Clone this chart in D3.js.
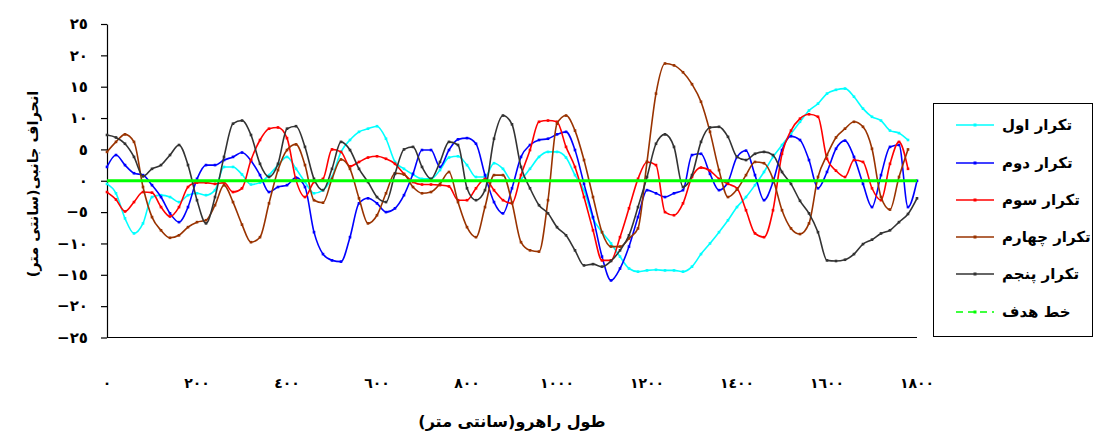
<!DOCTYPE html>
<html>
<head>
<meta charset="utf-8">
<script src="https://cdn.jsdelivr.net/npm/d3@7"></script>
<style>
  body { margin: 0; background: #fff; }
  text { font-family: "DejaVu Sans", sans-serif; font-weight: bold; fill: #000; }
</style>
</head>
<body>
<div id="chart"></div>
<script>
// distance along the walkway (cm)
var distance = [
  0, 20, 40, 60, 80, 100, 120, 140, 160, 180,
  200, 220, 240, 260, 280, 300, 320, 340, 360, 380,
  400, 420, 440, 460, 480, 500, 520, 540, 560, 580,
  600, 620, 640, 660, 680, 700, 720, 740, 760, 780,
  800, 820, 840, 860, 880, 900, 920, 940, 960, 980,
  1000, 1020, 1040, 1060, 1080, 1100, 1120, 1140, 1160, 1180,
  1200, 1220, 1240, 1260, 1280, 1300, 1320, 1340, 1360, 1380,
  1400, 1420, 1440, 1460, 1480, 1500, 1520, 1540, 1560, 1580,
  1600, 1620, 1640, 1660, 1680, 1700, 1720, 1740, 1760, 1780,
  1800
];

var rep1 = [
  -0.5, -2.0, -6.0, -8.4, -6.8, -2.6, -2.3, -2.6, -3.4, -2.3,
  -2.0, -2.3, -1.5, 2.2, 2.2, 1.0, -0.6, -0.3, 0.9, 2.5,
  3.8, 1.9, -0.2, -2.0, -1.5, 0.6, 4.6, 6.5, 7.8, 8.3,
  8.7, 6.7, 3.0, 1.9, 1.0, 0.3, 0.3, 1.7, 3.7, 3.9,
  2.5, 0.6, 0.6, 2.8, 1.9, 0.0, 0.3, 1.9, 3.8, 4.6,
  4.6, 3.7, 0.9, -1.5, -6.0, -8.2, -10.0, -12.1, -14.0, -14.5,
  -14.3, -14.2, -14.3, -14.3, -14.5, -13.7, -11.7, -10.0, -8.2, -6.3,
  -4.2, -2.6, -0.7, 1.4, 3.8, 5.7, 7.5, 9.4, 11.2, 12.3,
  13.9, 14.5, 14.7, 13.4, 11.5, 10.2, 9.6, 8.0, 7.6, 6.5,
  null
];

var rep2 = [
  2.2, 4.1, 2.5, 1.2, 0.9, -0.7, -2.6, -5.2, -6.6, -4.2,
  0.3, 2.5, 2.5, 3.3, 3.8, 4.5, 3.2, 0.9, -1.8, -1.0,
  -0.7, 0.5, -1.0, -8.2, -11.7, -12.7, -12.9, -9.0, -3.6, -2.8,
  -3.6, -5.0, -4.4, -2.3, 1.1, 4.9, 4.9, 2.2, 4.9, 6.6,
  6.8, 5.9, 0.9, -3.4, -5.2, -1.2, 3.8, 5.7, 6.5, 6.7,
  7.4, 7.8, 4.9, -0.5, -5.8, -12.1, -15.9, -14.0, -10.5, -5.8,
  -1.5, -2.0, -2.6, -2.0, -1.5, 4.1, 4.3, 1.1, -1.5, -0.2,
  3.8, 4.8, 0.9, -3.1, -0.2, 4.9, 7.1, 6.5, 3.3, -1.2,
  1.4, 5.1, 6.4, 3.8, -0.5, -4.2, 0.9, 5.4, 5.7, -4.2,
  0.0
];

var rep3 = [
  -1.8, -3.0, -4.9, -3.4, -1.8, -1.9, -4.2, -5.7, -4.2, -1.0,
  -0.3, -0.3, -0.5, -0.3, -1.8, -1.2, 3.3, 6.5, 8.3, 8.5,
  6.8, 0.1, -2.6, -0.2, 0.3, 5.0, 4.6, 2.3, 3.0, 3.7,
  3.9, 3.5, 2.7, 1.1, -0.2, -0.6, -0.6, -0.7, -0.9, -3.1,
  -3.1, -1.2, 0.3, -1.5, -3.1, -3.6, 0.9, 4.9, 9.4, 9.6,
  9.4, 5.4, 2.2, -2.6, -7.9, -12.7, -12.7, -9.0, -4.4, 0.3,
  3.0, 2.5, -5.0, -5.5, -3.6, 0.6, 2.1, 1.6, 0.3, -0.5,
  -1.2, -4.7, -8.4, -9.0, -4.7, 4.3, 8.0, 9.9, 10.6, 10.2,
  3.5, 1.6, 0.6, 3.3, 3.0, -1.2, -3.1, 2.7, 6.2, 1.9,
  null
];

var rep4 = [
  4.6, 6.2, 7.4, 6.2, -1.0, -5.8, -7.9, -9.1, -8.7, -7.4,
  -6.6, -6.3, -3.9, -0.7, -3.4, -7.0, -9.8, -9.0, -3.6, 1.7,
  4.9, 5.8, 2.5, -3.1, -3.5, 0.3, 3.4, 1.9, -2.8, -6.8,
  -5.5, -2.0, 1.2, 1.0, -1.0, -2.0, -1.8, -0.5, 1.4, -3.4,
  -7.4, -9.0, -4.2, 0.9, 0.9, -3.5, -9.8, -11.1, -11.3, -3.1,
  9.1, 10.4, 8.0, 3.3, -2.6, -8.2, -10.5, -10.5, -9.2, -7.6,
  3.0, 13.9, 18.7, 18.4, 17.3, 15.4, 12.6, 7.8, 1.7, -2.6,
  -1.4, 0.9, 3.0, 2.8, 0.3, -4.7, -7.6, -8.5, -6.8, 0.6,
  4.1, 6.9, 8.3, 9.4, 8.6, 5.1, -2.6, -4.6, 0.6, 5.0,
  null
];

var rep5 = [
  7.3, 6.9, 5.9, 3.8, 0.7, 1.9, 2.5, 4.1, 5.7, 2.5,
  -3.1, -6.8, -2.6, 3.8, 9.1, 9.6, 7.3, 2.7, 0.6, 2.7,
  8.3, 8.7, 5.4, 0.3, -1.5, 1.9, 6.2, 4.9, 1.9, -0.2,
  -2.6, -3.4, 1.1, 5.0, 5.4, 2.2, 0.3, 3.0, 6.2, 5.7,
  -1.2, -3.1, -1.5, 6.7, 10.4, 9.0, 2.2, -1.2, -3.9, -5.2,
  -7.4, -8.7, -11.1, -13.5, -13.3, -13.7, -12.8, -11.1, -8.7, -4.2,
  0.6, 5.9, 7.4, 5.4, -1.0, 0.9, 6.2, 8.5, 8.6, 7.0,
  3.8, 3.3, 4.3, 4.6, 4.1, 1.4, -0.5, -3.2, -5.2, -8.2,
  -12.7, -12.8, -12.6, -11.7, -10.1, -9.4, -8.4, -7.9, -6.6, -5.3,
  -2.8
];

// target line (خط هدف)
var targetX = [0, 1800];
var targetY = [0, 0];

var seriesNames = ["تکرار اول", "تکرار دوم", "تکرار سوم", "تکرار چهارم", "تکرار پنجم", "خط هدف"];
var seriesColors = ["#00ffff", "#0000ff", "#ff0000", "#993300", "#333333", "#00ff00"];

var yTicks = [25, 20, 15, 10, 5, 0, -5, -10, -15, -20, -25];
var xTicks = [0, 200, 400, 600, 800, 1000, 1200, 1400, 1600, 1800];

var svgWidth = 1099;
var svgHeight = 437;

var plot = { left: 107, right: 917, top: 24, bottom: 337.5 };

var svg = d3.select("#chart")
  .append("svg")
  .attr("width", svgWidth)
  .attr("height", svgHeight);

var x = d3.scaleLinear().domain([0, 1800]).range([plot.left, plot.right]);
var y = d3.scaleLinear().domain([-25, 25]).range([plot.bottom, plot.top]);

// arabic-indic digits for tick labels
function faNum(n) {
  var s = String(Math.abs(n)).replace(/[0-9]/g, function(c) {
    return String.fromCharCode(0x0660 + (+c));
  });
  return n < 0 ? "\u2212" + s : s;
}

// y axis
var yAxis = svg.append("g")
  .attr("transform", `translate(${plot.left},0)`)
  .call(d3.axisLeft(y).tickValues(yTicks).tickSize(6).tickSizeOuter(0).tickFormat(faNum));
yAxis.select(".domain").attr("stroke", "#000").attr("stroke-width", 1.2);
yAxis.selectAll(".tick line").attr("stroke", "#000").attr("stroke-width", 1.2);
yAxis.selectAll(".tick text")
  .attr("x", -19)
  .style("font-size", "15px")
  .style("direction", "ltr")
  .attr("font-family", null);

// x axis: line at bottom, labels well below it
svg.append("line")
  .attr("x1", x(0)).attr("x2", x(1800))
  .attr("y1", plot.bottom).attr("y2", plot.bottom)
  .attr("stroke", "#000").attr("stroke-width", 1.2);

svg.append("g").selectAll("text")
  .data(xTicks)
  .enter()
  .append("text")
  .attr("x", d => x(d))
  .attr("y", 388)
  .attr("text-anchor", "middle")
  .style("font-size", "14px")
  .text(d => faNum(d));

// series
var allSeries = [rep1, rep2, rep3, rep4, rep5];

var line = d3.line()
  .defined(d => d[1] !== null)
  .curve(d3.curveMonotoneX)
  .x(d => x(d[0]))
  .y(d => y(d[1]));

allSeries.forEach(function(vals, i) {
  var pts = distance.map((d, j) => [d, vals[j]]);
  svg.append("path")
    .datum(pts)
    .attr("fill", "none")
    .attr("stroke", seriesColors[i])
    .attr("stroke-width", 1.6)
    .attr("d", line);
  svg.append("g").selectAll("rect")
    .data(pts.filter(p => p[1] !== null))
    .enter()
    .append("rect")
    .attr("x", d => x(d[0]) - 1.3)
    .attr("y", d => y(d[1]) - 1.3)
    .attr("width", 2.6)
    .attr("height", 2.6)
    .attr("fill", seriesColors[i]);
});

// target line on top
svg.append("path")
  .datum(targetX.map((d, j) => [d, targetY[j]]))
  .attr("fill", "none")
  .attr("stroke", seriesColors[5])
  .attr("stroke-width", 3)
  .attr("d", line);

// axis titles
svg.append("text")
  .attr("transform", "translate(38,184) rotate(-90)")
  .attr("text-anchor", "middle")
  .style("font-size", "14.5px")
  .text("انحراف جانبی(سانتی متر)");

svg.append("text")
  .attr("x", 512)
  .attr("y", 427)
  .attr("text-anchor", "middle")
  .style("font-size", "16px")
  .text("طول راهرو(سانتی متر)");

// legend
var legend = svg.append("g");
legend.append("rect")
  .attr("x", 933.5).attr("y", 103.5)
  .attr("width", 159).attr("height", 233)
  .attr("fill", "#fff")
  .attr("stroke", "#000")
  .attr("stroke-width", 1);

var legendY = [125, 163, 200, 237, 274, 312];

seriesNames.forEach(function(name, i) {
  var ly = legendY[i];
  legend.append("line")
    .attr("x1", 956).attr("x2", 994)
    .attr("y1", ly).attr("y2", ly)
    .attr("stroke", seriesColors[i])
    .attr("stroke-width", 1.4)
    .attr("stroke-dasharray", i === 5 ? "7,5" : null);
  legend.append("rect")
    .attr("x", 973.5).attr("y", ly - 1.5)
    .attr("width", 3).attr("height", 3)
    .attr("fill", seriesColors[i]);
  legend.append("text")
    .attr("x", 1002)
    .attr("y", ly + 5)
    .attr("text-anchor", "start")
    .style("font-size", "15px")
    .text(name);
});
</script>
</body>
</html>
